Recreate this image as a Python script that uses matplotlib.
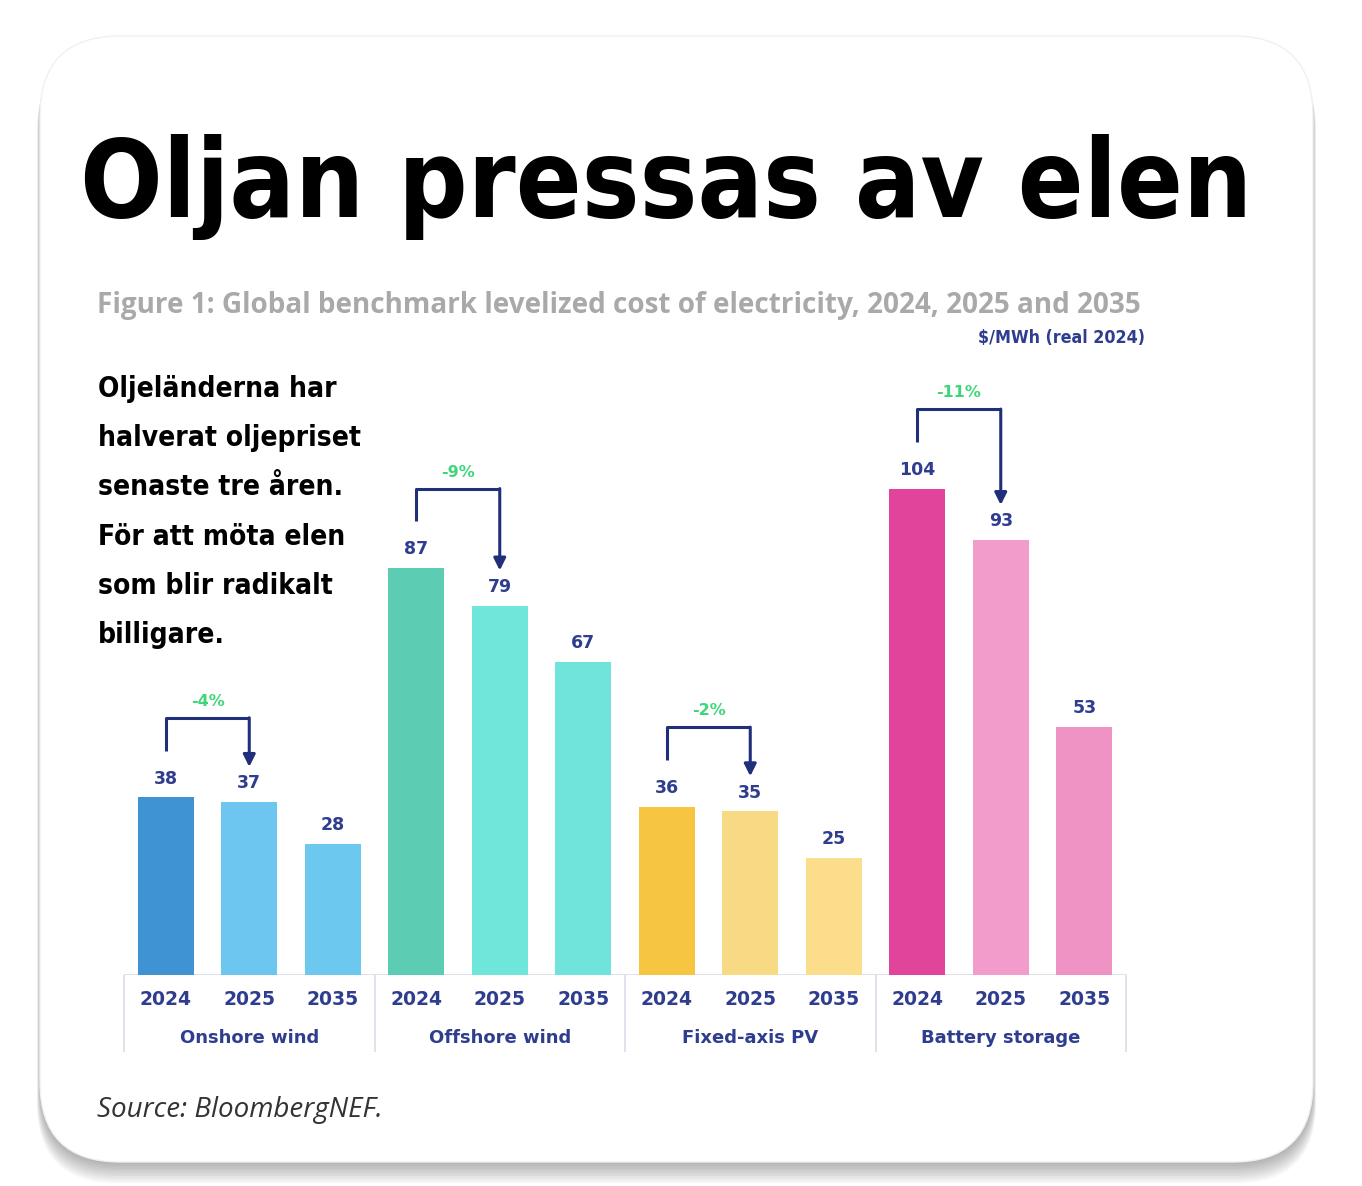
import matplotlib
matplotlib.use("Agg")
import matplotlib.pyplot as plt
from matplotlib import font_manager
from matplotlib.patches import FancyBboxPatch
import numpy as np

# data
groups = ["Onshore wind", "Offshore wind", "Fixed-axis PV", "Battery storage"]
years = ["2024", "2025", "2035"]
onshore = [38, 37, 28]
offshore = [87, 79, 67]
pv = [36, 35, 25]
battery = [104, 93, 53]
changes = ["-4%", "-9%", "-2%", "-11%"]

colors = [
    ["#3f93d3", "#6cc6f0", "#6dc8f0"],
    ["#5ccdb2", "#6ee6da", "#70e4da"],
    ["#f6c542", "#f9da84", "#fbdd8c"],
    ["#e1449b", "#f19ccb", "#ef93c4"],
]

title = "Oljan pressas av elen"
note_lines = ["Oljeländerna har", "halverat oljepriset", "senaste tre åren.",
              "För att möta elen", "som blir radikalt", "billigare."]
subtitle = "Figure 1: Global benchmark levelized cost of electricity, 2024, 2025 and 2035"
unit = "$/MWh (real 2024)"
source = "Source: BloombergNEF."

W, H = 1362, 1186
names = {f.name for f in font_manager.fontManager.ttflist}
narrow = "Liberation Sans Narrow" if "Liberation Sans Narrow" in names else "DejaVu Sans"
navy = "#2f3d8f"

fig = plt.figure(figsize=(W / 100, H / 100), dpi=100)
fig.patch.set_facecolor("white")

# background layer in pixel coords
bg = fig.add_axes([0, 0, 1, 1], zorder=0)
bg.set_xlim(0, W)
bg.set_ylim(H, 0)
bg.axis("off")

# card shadow + card
r = 80
for dy in range(2, 20, 2):
    grow = dy / 6
    bg.add_patch(FancyBboxPatch((40 + r - grow, 36 + r + dy - grow),
                                1273 - 2 * r + 2 * grow, 1126 - 2 * r + 2 * grow,
                                boxstyle=f"round,pad={r}", fc="#000000", ec="none",
                                alpha=0.035, zorder=1))
bg.add_patch(FancyBboxPatch((40 + r, 36 + r), 1273 - 2 * r, 1126 - 2 * r,
                            boxstyle=f"round,pad={r}", fc="white", ec="#f0f0f0",
                            lw=1, zorder=2))

renderer = fig.canvas.get_renderer()

def fit(t, width):
    bb = t.get_window_extent(renderer)
    t.set_fontsize(t.get_fontsize() * width / bb.width)

t = bg.text(80, 217, title, family=[narrow], stretch="condensed", weight="bold",
            fontsize=100, color="black", va="baseline", ha="left", zorder=5)
fit(t, 1173)

t = bg.text(97, 305, subtitle, family=["Open Sans", "DejaVu Sans"], weight="bold",
            fontsize=20, color="#a9a9a9", va="center", ha="left", zorder=5)
fit(t, 1046)
t = bg.text(1145, 338, unit, family=[narrow], stretch="condensed", weight="bold",
            fontsize=12, color=navy, va="center", ha="right", zorder=5)
fit(t, 167)

probe = bg.text(98, 0, note_lines[1], family=[narrow], stretch="condensed",
                weight="bold", fontsize=30, va="baseline", zorder=5)
fit(probe, 262)
note_fs = probe.get_fontsize()
probe.remove()
for i, line in enumerate(note_lines):
    bg.text(98, 397 + 49.2 * i, line, family=[narrow], stretch="condensed",
            weight="bold", fontsize=note_fs, color="black", va="baseline",
            ha="left", zorder=5)

t = bg.text(97, 1110, source, family=["Open Sans", "DejaVu Sans"], style="italic",
            fontsize=16, color="#333333", va="center", ha="left", zorder=5)
fit(t, 286)

# chart
ax = fig.add_axes([124 / W, (H - 975) / H, 1002 / W, 608 / H], zorder=3)
ax.patch.set_alpha(0)
ax.set_xlim(-0.5, 11.5)
ax.set_ylim(0, 130)
for s in ax.spines.values():
    s.set_visible(False)
ax.set_yticks([])

series = [onshore, offshore, pv, battery]
for g, vals in enumerate(series):
    xs = np.arange(3) + 3 * g
    ax.bar(xs, vals, width=0.67, color=colors[g], zorder=2)
    for x, v in zip(xs, vals):
        ax.annotate(str(v), (x, v), xytext=(0, 7), textcoords="offset points",
                    ha="center", va="bottom", fontsize=12.5, weight="bold",
                    color=navy)
    # bracket from 2024 to 2025
    v0, v1 = vals[0], vals[1]
    top = v0 + 17
    ax.plot([xs[0], xs[0], xs[1]], [v0 + 10, top, top], color="#1f2f7a",
            lw=2.2, solid_capstyle="butt", zorder=3)
    ax.annotate("", xy=(xs[1], v1 + 7.5), xytext=(xs[1], top),
                arrowprops=dict(arrowstyle="-|>", color="#1f2f7a", lw=2.2,
                                mutation_scale=18, shrinkA=0, shrinkB=0), zorder=3)
    ax.text((xs[0] + xs[1]) / 2, v0 + 20.5, changes[g], ha="center", va="center",
            fontsize=11.5, weight="bold", color="#3fd67a")

ax.axhline(0, color="#d9dbe8", lw=1.2, zorder=1)
ax.set_xticks(np.arange(12), labels=years * 4)
ax.tick_params(axis="x", length=0, pad=11, labelsize=13.5, labelcolor=navy)
for lab in ax.get_xticklabels():
    lab.set_fontweight("bold")

trans = ax.get_xaxis_transform()
ax.vlines([-0.5, 2.5, 5.5, 8.5, 11.5], -0.127, 0, transform=trans,
          color="#d9dbe8", lw=1.2, clip_on=False)
for g, name in enumerate(groups):
    ax.text(3 * g + 1, -0.104, name, transform=trans, ha="center", va="center",
            fontsize=13, weight="bold", color=navy, clip_on=False)

fig.savefig("out.png", dpi=100, facecolor="white")
